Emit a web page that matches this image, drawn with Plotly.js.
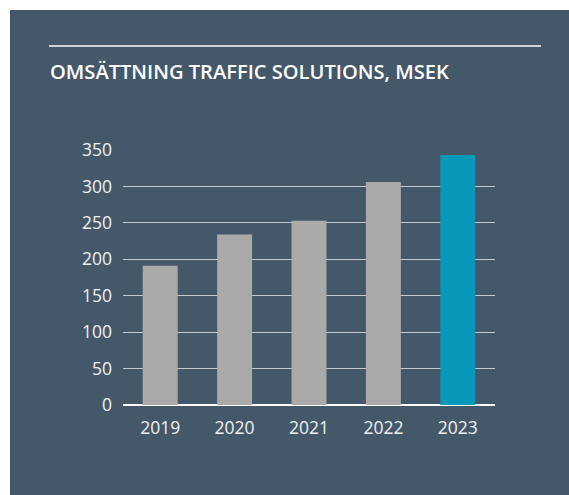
<!DOCTYPE html>
<html>
<head>
<meta charset="utf-8">
<script src="https://cdn.plot.ly/plotly-3.0.1.min.js"></script>
<style>
  html, body { margin: 0; padding: 0; background: #fff; }
  #chart { position: absolute; left: 10px; top: 10px; width: 559px; height: 485px; }
</style>
</head>
<body>
<div id="chart"></div>
<script>
// data
const years = ["2019", "2020", "2021", "2022", "2023"];
const revenue = [191, 234, 253, 306, 343];
const barColors = ["#aaaaa8", "#aaaaa8", "#aaaaa8", "#aaaaa8", "#0898b9"];
const yTicks = [0, 50, 100, 150, 200, 250, 300, 350];

const BG = "#44586a";
const FONT = "'Open Sans', 'Noto Sans', sans-serif";

// plot area in px inside the div
const W = 559, H = 485;
const M = { l: 113, r: 74, t: 140, b: 90 };
const pw = W - M.l - M.r, ph = H - M.t - M.b;
const px = x => (x - M.l) / pw;      // container x -> paper x
const py = y => (H - M.b - y) / ph;  // container y -> paper y

const trace = {
  type: "bar",
  x: years,
  y: revenue,
  marker: { color: barColors, line: { width: 0 } },
  hoverinfo: "x+y"
};

const layout = {
  width: W,
  height: H,
  margin: M,
  paper_bgcolor: BG,
  plot_bgcolor: BG,
  bargap: 0.53,
  showlegend: false,
  font: { family: FONT, color: "#eef0f2", size: 17 },
  xaxis: {
    type: "category",
    showgrid: false,
    showline: false,
    ticks: "",
    ticklabelstandoff: 10,
    tickfont: { size: 17.5, color: "#eef0f2" }
  },
  yaxis: {
    range: [0, 350],
    tickvals: yTicks,
    showgrid: true,
    gridcolor: "#c3c9cf",
    gridwidth: 1,
    zeroline: true,
    zerolinecolor: "#ffffff",
    zerolinewidth: 2,
    showline: false,
    ticks: "",
    ticklabelstandoff: 10,
    tickfont: { size: 17.5, color: "#eef0f2" }
  },
  shapes: [{
    type: "line", xref: "paper", yref: "paper",
    x0: px(39), x1: px(531), y0: py(36), y1: py(36),
    line: { color: "#cfd3d7", width: 2 }
  }],
  annotations: [{
    xref: "paper", yref: "paper",
    x: px(38), y: py(46),
    xanchor: "left", yanchor: "top",
    showarrow: false,
    text: "OMSÄTTNING TRAFFIC SOLUTIONS, MSEK",
    font: { family: FONT, size: 20.1, color: "#ffffff", weight: 600 }
  }]
};

Plotly.newPlot("chart", [trace], layout, { displayModeBar: false, staticPlot: true });
</script>
</body>
</html>
